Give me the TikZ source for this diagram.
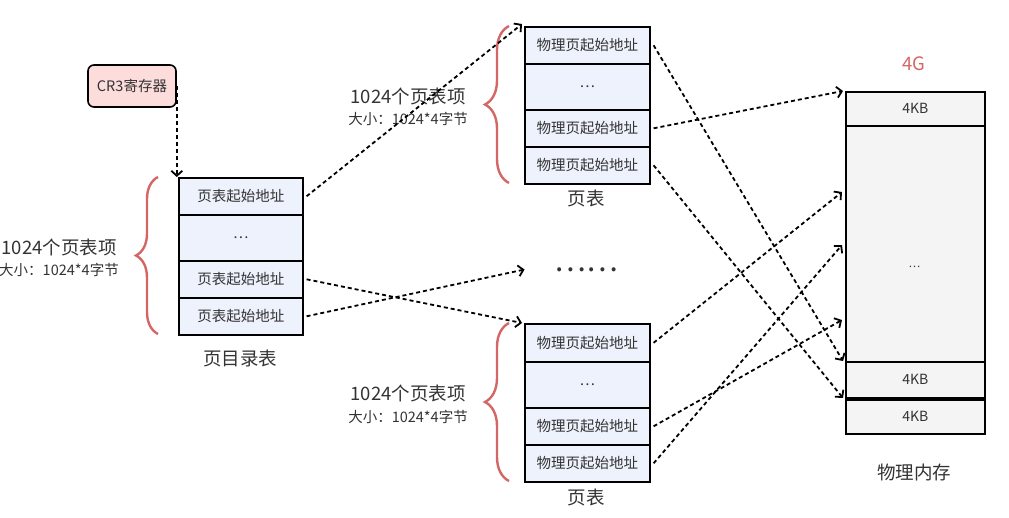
\documentclass[tikz,border=0pt]{standalone}
\usepackage{fontspec}
\setmainfont{Noto Sans CJK SC}
\usetikzlibrary{arrows.meta,decorations.pathreplacing,calc}
\definecolor{brc}{RGB}{212,102,102}
\definecolor{cellfill}{RGB}{237,242,252}
\definecolor{memfill}{RGB}{244,244,244}
\definecolor{crfill}{RGB}{253,220,220}
\definecolor{txt}{RGB}{51,51,51}
\begin{document}
\begin{tikzpicture}[x=1pt,y=-1pt,
  cell/.style={draw=black, line width=1.6pt, fill=cellfill, anchor=north west, minimum width=124pt, inner sep=0pt, text=txt, font=\fontsize{14.5}{14.5}\selectfont},
  mem/.style={draw=black, line width=1.6pt, fill=memfill, anchor=north west, minimum width=139pt, inner sep=0pt, text=txt, font=\fontsize{14}{14}\selectfont},
  crbox/.style={draw=black, line width=1.6pt, fill=crfill, rounded corners=6pt, minimum width=88pt, minimum height=42pt, inner sep=0pt, text=txt, font=\fontsize{14.5}{14.5}\selectfont},
  conn/.style={line width=1.8pt, dash pattern=on 4pt off 3pt, -{Straight Barb[length=5pt,width=11pt]}},
  bracepath/.style={draw=brc, line width=2.4pt, decorate, decoration={brace, amplitude=#1}},
  big/.style={text=txt, inner sep=0pt, font=\fontsize{18.5}{18.5}\selectfont},
  small/.style={text=txt, inner sep=0pt, font=\fontsize{14.5}{14.5}\selectfont}
]
\useasboundingbox (0,0) rectangle (1009,517);

% CR3
\node[crbox] (cr3) at (132,86) {CR3寄存器};

% page directory
\node[cell, minimum height=37pt] (d1) at (178,177) {页表起始地址};
\node[cell, minimum height=46pt] (d2) at (178,214) {…};
\node[cell, minimum height=37pt] (d3) at (178,260) {页表起始地址};
\node[cell, minimum height=37pt] (d4) at (178,297) {页表起始地址};

% top page table
\node[cell, minimum width=125pt, minimum height=37pt] (p1) at (524,26) {物理页起始地址};
\node[cell, minimum width=125pt, minimum height=46pt] (p2) at (524,63) {…};
\node[cell, minimum width=125pt, minimum height=37pt] (p3) at (524,109) {物理页起始地址};
\node[cell, minimum width=125pt, minimum height=37pt] (p4) at (524,146) {物理页起始地址};

% bottom page table
\node[cell, minimum width=125pt, minimum height=38pt] (q1) at (524,323) {物理页起始地址};
\node[cell, minimum width=125pt, minimum height=46pt] (q2) at (524,361) {…};
\node[cell, minimum width=125pt, minimum height=37pt] (q3) at (524,407) {物理页起始地址};
\node[cell, minimum width=125pt, minimum height=37pt] (q4) at (524,444) {物理页起始地址};

% memory
\node[mem, minimum height=34pt] (m1) at (845,91) {4KB};
\node[mem, minimum height=236pt] (m2) at (845,125) {};
\node[text=txt, inner sep=0pt, font=\fontsize{11}{11}\selectfont] (m2t) at (914.5,267) {…};
\node[mem, minimum height=36pt] (m3) at (845,361) {4KB};
\node[mem, minimum height=34pt] (m4) at (845,399) {4KB};

% dots
\node[text=txt, inner sep=0pt, font=\fontsize{30}{30}\selectfont] (dots) at (586.5,269.5) {……};

% braces
\draw[bracepath=22pt] (158,334) -- (158,177);
\draw[bracepath=24pt] (509,183) -- (509,26);
\draw[bracepath=24pt] (509,481) -- (509,323);

% brace labels
\node[big] (dl1) at (59,247) {1024个页表项};
\node[small] (dl2) at (59,270) {大小：1024*4字节};
\node[big] (pl1) at (408,96) {1024个页表项};
\node[small] (pl2) at (408,119) {大小：1024*4字节};
\node[big] (ql1) at (408,393) {1024个页表项};
\node[small] (ql2) at (408,417) {大小：1024*4字节};

% titles
\node[big] (t1) at (240,358) {页目录表};
\node[big] (t2) at (586,198) {页表};
\node[big] (t3) at (586,497) {页表};
\node[big] (t4) at (914,472) {物理内存};
\node[big, text=brc] (t5) at (914,64) {4G};

% target coordinates on memory
\coordinate (a1) at ([yshift=-67pt]m2.north west);
\coordinate (a2) at ([yshift=-120pt]m2.north west);
\coordinate (a3) at ([yshift=-195pt]m2.north west);

% connectors
\draw[conn] (cr3.east) -- (cr3.east |- d1.north);
\draw[conn] ([xshift=3pt]d1.east) -- ([shift={(-2pt,2pt)}]p1.north west);
\draw[conn] ([xshift=3pt]d3.east) -- ([xshift=-2pt]q1.north west);
\draw[conn] ([xshift=3pt]d4.east) -- ([xshift=-30pt]dots.west);
\draw[conn] ([xshift=3pt]p1.east) -- ([xshift=-2pt]m3.north west);
\draw[conn] ([xshift=3pt]p3.east) -- ([xshift=-2pt]m1.north west);
\draw[conn] ([xshift=3pt]p4.east) -- ([shift={(-2pt,1pt)}]m4.north west);
\draw[conn] ([xshift=3pt]q1.east) -- ([xshift=-3pt]a1);
\draw[conn] ([xshift=3pt]q3.east) -- ([xshift=-3pt]a3);
\draw[conn] ([xshift=3pt]q4.east) -- ([xshift=-3pt]a2);
\end{tikzpicture}
\end{document}
